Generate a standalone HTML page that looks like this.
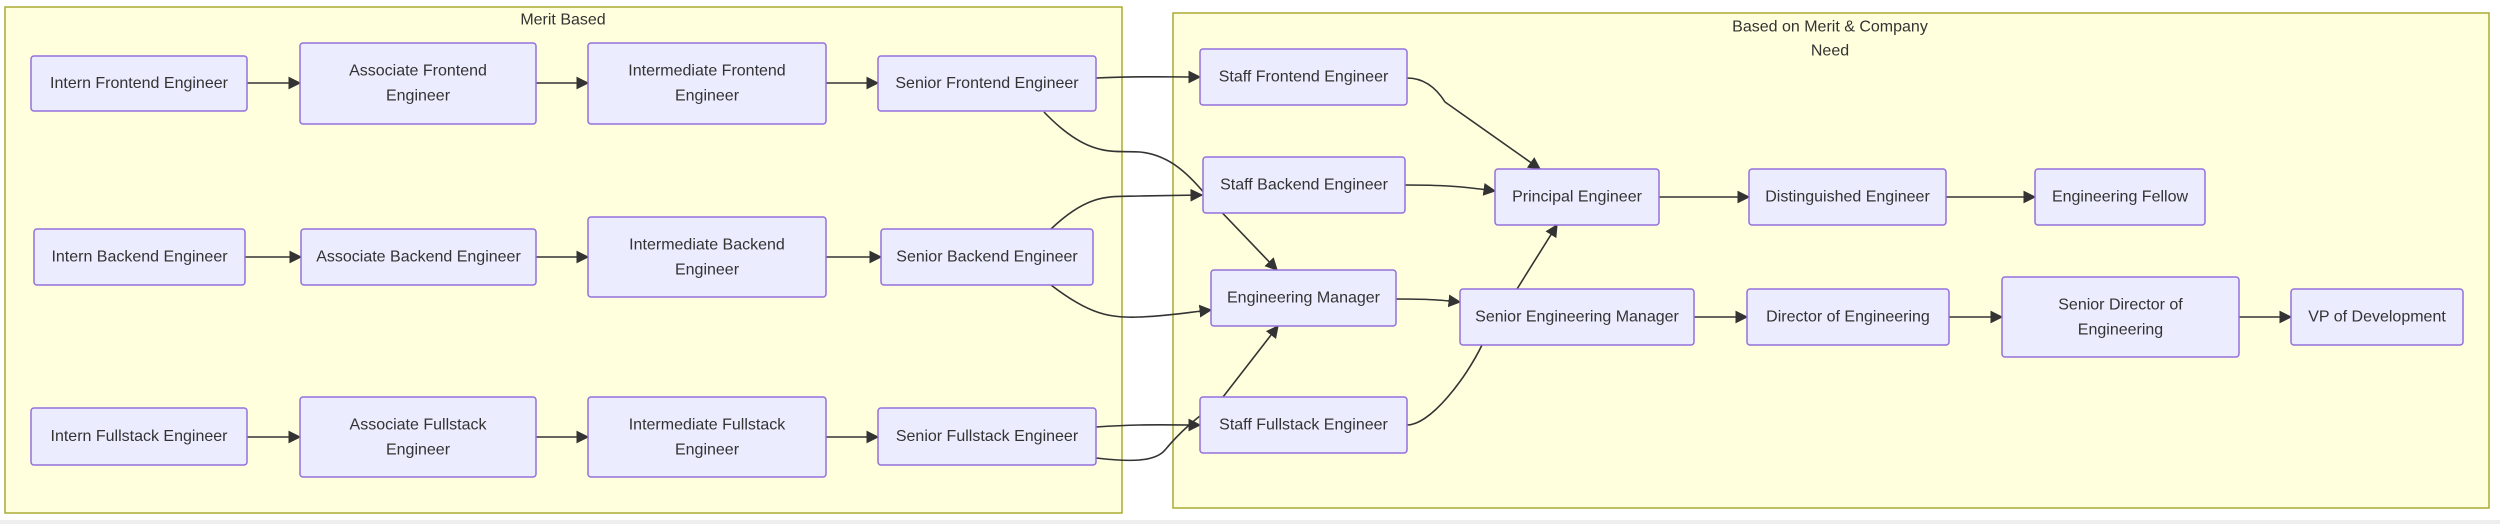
<!DOCTYPE html>
<html><head><meta charset="utf-8"><style>
html,body{margin:0;padding:0;background:#fff;}
svg{display:block}
text{font-family:"Liberation Sans",sans-serif;font-size:16px;fill:#333;text-anchor:middle;dominant-baseline:central}
.n{fill:#ECECFF;stroke:#9370DB;stroke-width:1.5}
.c{fill:#ffffde;stroke:#aaaa33;stroke-width:1.5}
.e{fill:none;stroke:#333;stroke-width:1.6}
</style></head><body>
<svg width="2500" height="524" viewBox="0 0 2500 524" xmlns="http://www.w3.org/2000/svg">
<defs><marker id="a" viewBox="0 0 10 10" refX="9" refY="5" markerWidth="8" markerHeight="8" orient="auto"><path d="M0,0 L10,5 L0,10 z" fill="#333"/></marker></defs>
<rect x="0" y="520" width="2500" height="4" fill="#eee"/>
<rect class="c" x="5" y="7" width="1117" height="506"/>
<rect class="c" x="1173" y="13" width="1316" height="495"/>
<text x="563" y="20">Merit Based</text>
<text x="1830" y="27">Based on Merit &amp; Company</text>
<text x="1830" y="51">Need</text>

<g class="e" marker-end="url(#a)">
<path d="M247,83 L300,83"/><path d="M536,83 L588,83"/><path d="M826,83 L878,83"/>
<path d="M245,257 L301,257"/><path d="M536,257 L588,257"/><path d="M826,257 L881,257"/>
<path d="M247,437 L300,437"/><path d="M536,437 L588,437"/><path d="M826,437 L878,437"/>
<path d="M1096,78 C1140,76 1160,77 1200,77"/>
<path d="M1044,112 C1090,160 1115,150 1140,152 C1170,155 1190,175 1210,200 L1277,270"/>
<path d="M1051,229 C1090,192 1110,197 1140,196 L1202,195"/>
<path d="M1051,285 C1090,315 1110,318 1140,317 C1170,316 1190,312 1211,310"/>
<path d="M1096,427 C1140,424 1160,425 1200,425"/>
<path d="M1096,458 C1130,462 1155,462 1165,450 C1190,420 1210,410 1223,397 L1278,326"/>
<path d="M1407,78 Q1430,78 1445,102 L1540,169"/>
<path d="M1405,185 C1440,185 1460,186 1495,191"/>
<path d="M1396,299 C1430,299 1440,300 1460,302"/>
<path d="M1407,425 C1430,425 1465,380 1482,345 L1557,225"/>
<path d="M1659,197 L1749,197"/><path d="M1946,197 L2035,197"/>
<path d="M1694,317 L1747,317"/><path d="M1949,317 L2002,317"/><path d="M2239,317 L2291,317"/>
</g>

<g>
<rect class="n" x="31" y="56" width="216" height="55" rx="3"/><text x="139" y="83.5">Intern Frontend Engineer</text>
<rect class="n" x="300" y="43" width="236" height="81" rx="3"/><text x="418" y="71">Associate Frontend</text><text x="418" y="96">Engineer</text>
<rect class="n" x="588" y="43" width="238" height="81" rx="3"/><text x="707" y="71">Intermediate Frontend</text><text x="707" y="96">Engineer</text>
<rect class="n" x="878" y="56" width="218" height="55" rx="3"/><text x="987" y="83.5">Senior Frontend Engineer</text>

<rect class="n" x="34" y="229" width="211" height="56" rx="3"/><text x="139.5" y="257">Intern Backend Engineer</text>
<rect class="n" x="301" y="229" width="235" height="56" rx="3"/><text x="418.5" y="257">Associate Backend Engineer</text>
<rect class="n" x="588" y="217" width="238" height="80" rx="3"/><text x="707" y="245">Intermediate Backend</text><text x="707" y="270">Engineer</text>
<rect class="n" x="881" y="229" width="212" height="56" rx="3"/><text x="987" y="257">Senior Backend Engineer</text>

<rect class="n" x="31" y="408" width="216" height="57" rx="3"/><text x="139" y="436.5">Intern Fullstack Engineer</text>
<rect class="n" x="300" y="397" width="236" height="80" rx="3"/><text x="418" y="425">Associate Fullstack</text><text x="418" y="450">Engineer</text>
<rect class="n" x="588" y="397" width="238" height="80" rx="3"/><text x="707" y="425">Intermediate Fullstack</text><text x="707" y="450">Engineer</text>
<rect class="n" x="878" y="408" width="218" height="57" rx="3"/><text x="987" y="436.5">Senior Fullstack Engineer</text>

<rect class="n" x="1200" y="49" width="207" height="56" rx="3"/><text x="1303.5" y="77">Staff Frontend Engineer</text>
<rect class="n" x="1203" y="157" width="202" height="56" rx="3"/><text x="1304" y="185">Staff Backend Engineer</text>
<rect class="n" x="1495" y="169" width="164" height="56" rx="3"/><text x="1577" y="197">Principal Engineer</text>
<rect class="n" x="1749" y="169" width="197" height="56" rx="3"/><text x="1847.5" y="197">Distinguished Engineer</text>
<rect class="n" x="2035" y="169" width="170" height="56" rx="3"/><text x="2120" y="197">Engineering Fellow</text>
<rect class="n" x="1211" y="270" width="185" height="56" rx="3"/><text x="1303.5" y="298">Engineering Manager</text>
<rect class="n" x="1460" y="289" width="234" height="56" rx="3"/><text x="1577" y="317">Senior Engineering Manager</text>
<rect class="n" x="1747" y="289" width="202" height="56" rx="3"/><text x="1848" y="317">Director of Engineering</text>
<rect class="n" x="2002" y="277" width="237" height="80" rx="3"/><text x="2120.5" y="305">Senior Director of</text><text x="2120.5" y="330">Engineering</text>
<rect class="n" x="2291" y="289" width="172" height="56" rx="3"/><text x="2377" y="317">VP of Development</text>
<rect class="n" x="1200" y="397" width="207" height="56" rx="3"/><text x="1303.5" y="425">Staff Fullstack Engineer</text>
</g>
</svg>
</body></html>
